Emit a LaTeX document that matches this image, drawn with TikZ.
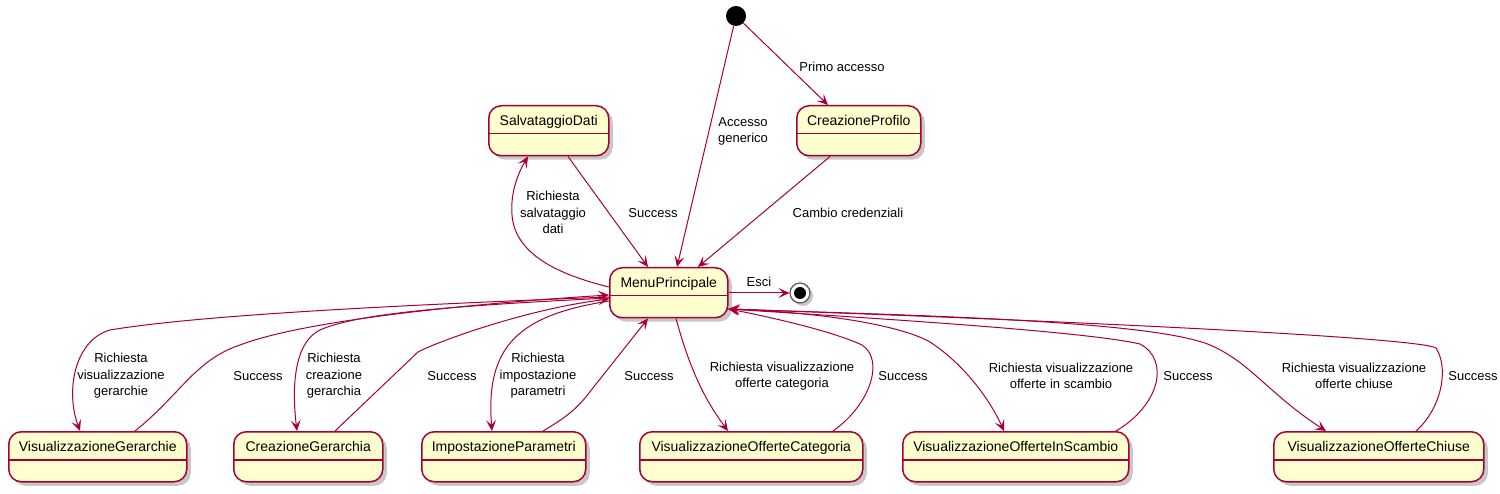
\documentclass[tikz,border=0pt]{standalone}
\usepackage{fontspec}
\setmainfont{Liberation Sans}
\usetikzlibrary{calc,shadows,arrows.meta}
\definecolor{uml}{HTML}{A80036}
\definecolor{umlfill}{HTML}{FEFECE}
\tikzset{
  st/.style={draw=uml, fill=umlfill, line width=1.5pt, rounded corners=12.5pt,
    minimum height=50pt, inner xsep=0pt, inner ysep=0pt, text height=20pt, text depth=30pt,
    anchor=north west, font=\fontsize{14}{16}\selectfont,
    drop shadow={shadow xshift=4pt, shadow yshift=-4pt, opacity=0.3, fill=black!70},
    path picture={\draw[uml, line width=1.5pt] ([yshift=-28pt]path picture bounding box.north west) -- ([yshift=-28pt]path picture bounding box.north east);}},
  tr/.style={draw=uml, line width=1pt, -{Stealth[length=11pt,width=10pt,inset=5pt]}},
  lb/.style={font=\fontsize{13}{16.5}\selectfont, align=center, inner sep=0pt},
}
\begin{document}
\begin{tikzpicture}[x=1pt,y=-1pt]
\useasboundingbox[fill=white] (0,0) rectangle (1500,494);
% states
\node[circle, fill=black, minimum size=20pt, inner sep=0pt] (init) at (736,16) {};
\node[st, minimum width=120pt] (sd) at (488,105) {SalvataggioDati};
\node[st, minimum width=124pt] (cp) at (796,105) {CreazioneProfilo};
\node[st, minimum width=118pt] (mp) at (609,267) {MenuPrincipale};
\node[circle, draw=black!65, fill=white, line width=1.2pt, minimum size=20pt, inner sep=0pt,
  drop shadow={shadow xshift=3pt, shadow yshift=-3pt, opacity=0.3, fill=black!70}] (fin) at (800,293) {};
\node[circle, fill=black, minimum size=12pt, inner sep=0pt] (finin) at (fin) {};
\node[st, minimum width=178pt] (vg) at (8,431) {VisualizzazioneGerarchie};
\node[st, minimum width=149pt] (cg) at (233,431) {CreazioneGerarchia};
\node[st, minimum width=164pt] (ip) at (421,431) {ImpostazioneParametri};
\node[st, minimum width=223pt] (voc) at (639,431) {VisualizzazioneOfferteCategoria};
\node[st, minimum width=226pt] (vois) at (902,431) {VisualizzazioneOfferteInScambio};
\node[st, minimum width=210pt] (voch) at (1273,431) {VisualizzazioneOfferteChiuse};
% transitions
\draw[tr] (init) -- ($(mp.north west)+(68,0)$);
\draw[tr] (init) -- ($(cp.north west)+(32,0)$);
\draw[tr] ($(sd.south west)+(80,0)$) -- ($(mp.north west)+(39,0)$);
\draw[tr] ($(cp.south west)+(34,0)$) -- ($(mp.north west)+(89,0)$);
\draw[tr] ($(mp.north west)+(0,20)$) .. controls (560,275) and (515,255) .. (512,215)
  .. controls (510,190) and (520,170) .. ($(sd.south west)+(40,0)$);
\draw[tr] ($(mp.north east)+(0,26)$) -- (fin);
\draw[tr] ($(mp.north west)+(0,30)$) .. controls (400,305) and (200,315) .. (110,330)
  .. controls (75,340) and (65,390) .. ($(vg.north west)+(72,0)$);
\draw[tr] ($(vg.north west)+(127,0)$) .. controls (180,395) and (195,360) .. (240,345)
  .. controls (300,322) and (450,305) .. ($(mp.north west)+(0,28)$);
\draw[tr] ($(mp.north west)+(0,31)$) .. controls (470,305) and (360,312) .. (320,330)
  .. controls (293,343) and (292,390) .. ($(cg.north west)+(64,0)$);
\draw[tr] ($(cg.north west)+(102,0)$) -- (418,352) .. controls (430,345) and (520,310) .. ($(mp.north west)+(0,32)$);
\draw[tr] ($(mp.north west)+(0,34)$) .. controls (520,315) and (485,345) .. ($(ip.north west)+(71,0)$);
\draw[tr] ($(ip.north west)+(122,0)$) .. controls (565,418) and (575,410) .. (585,398) -- ($(mp.south west)+(39,0)$);
\draw[tr] ($(mp.south west)+(67,0)$) .. controls (690,370) and (705,400) .. ($(voc.north west)+(89,0)$);
\draw[tr] ($(voc.north west)+(194,0)$) .. controls (870,405) and (885,360) .. (862,345)
  .. controls (830,330) and (760,315) .. ($(mp.north east)+(0,42)$);
\draw[tr] ($(mp.north east)+(0,42)$) .. controls (820,312) and (900,325) .. (930,342)
  .. controls (965,365) and (990,400) .. ($(vois.north west)+(102,0)$);
\draw[tr] ($(vois.north west)+(214,0)$) .. controls (1160,405) and (1170,360) .. (1140,344)
  .. controls (1080,330) and (820,315) .. ($(mp.north east)+(0,42)$);
\draw[tr] ($(mp.north east)+(0,42)$) .. controls (900,315) and (1150,320) .. (1210,345)
  .. controls (1250,362) and (1270,395) .. ($(voch.north west)+(53,0)$);
\draw[tr] ($(voch.north west)+(143,0)$) .. controls (1440,410) and (1450,370) .. (1436,348)
  .. controls (1420,338) and (1100,322) .. ($(mp.north east)+(0,42)$);
% labels
\node[lb] (l1) at (842,67) {Primo accesso};
\node[lb] (l2) at (743,131.5) {Accesso\\generico};
\node[lb] (l3) at (553,212.5) {Richiesta\\salvataggio\\dati};
\node[lb] (l4) at (653,213) {Success};
\node[lb] (l5) at (848,213) {Cambio credenziali};
\node[lb] (l6) at (759,282) {Esci};
\node[lb] (l7) at (121,376) {Richiesta\\visualizzazione\\gerarchie};
\node[lb] (l8) at (258,376) {Success};
\node[lb] (l9) at (334,376) {Richiesta\\creazione\\gerarchia};
\node[lb] (l10) at (452,376) {Success};
\node[lb] (l11) at (538,376) {Richiesta\\impostazione\\parametri};
\node[lb] (l12) at (649,376) {Success};
\node[lb] (l13) at (782,376) {Richiesta visualizzazione\\offerte categoria};
\node[lb] (l14) at (903,376) {Success};
\node[lb] (l15) at (1061,376) {Richiesta visualizzazione\\offerte in scambio};
\node[lb] (l16) at (1188,376) {Success};
\node[lb] (l17) at (1354,376) {Richiesta visualizzazione\\offerte chiuse};
\node[lb] (l18) at (1473,376) {Success};
\end{tikzpicture}
\end{document}
